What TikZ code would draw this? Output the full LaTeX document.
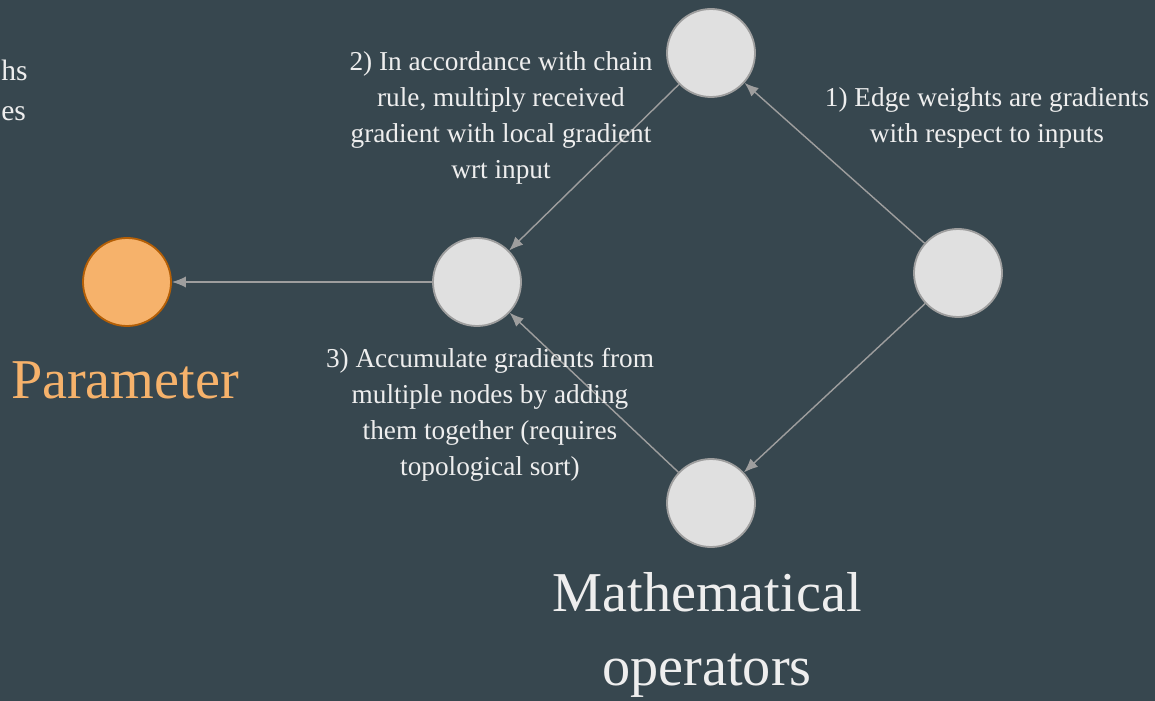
\documentclass[tikz,border=0pt]{standalone}
\usepackage{fontspec}
\setmainfont{Liberation Serif}
\usepackage{xcolor}
\usetikzlibrary{arrows.meta, positioning}

\definecolor{slate}{HTML}{37474F}
\definecolor{opfill}{HTML}{E0E0E0}
\definecolor{opline}{HTML}{9E9E9E}
\definecolor{parfill}{HTML}{F6B26B}
\definecolor{parline}{HTML}{B45F06}
\definecolor{txt}{HTML}{EEEEEE}

\begin{document}
\begin{tikzpicture}[
    x=0.025cm, y=-0.025cm,
    every node/.style={text=txt},
    op/.style={circle, draw=opline, fill=opfill, line width=1.3pt,
               minimum size=2.2cm, inner sep=0pt},
    param/.style={op, draw=parline, fill=parfill},
    note/.style={align=center, font=\fontsize{19.4}{25.6}\selectfont},
    big/.style={align=center, font=\fontsize{40}{53}\selectfont},
    arrow/.style={-{Latex[length=10pt, width=8pt]}, draw=opline, line width=1pt}
]
    \fill[slate] (0,0) rectangle (1155,701);
    \useasboundingbox (0,0) rectangle (1155,701);

    % nodes
    \node[param] (p) at (127,282) {};
    \node[op] (m) at (477,282) {};
    \node[op] (t) at (711,53) {};
    \node[op] (r) at (958,273) {};
    \node[op] (b) at (711,503) {};

    % edges
    \draw[arrow] (m) -- (p);
    \draw[arrow] (r) -- (t);
    \draw[arrow] (t) -- (m);
    \draw[arrow] (r) -- (b);
    \draw[arrow] (b) -- (m);

    % labels
    \node[big, text=parfill] (plabel) at (125,380) {Parameter};
    \node[big] (blabel) at (707,635) {Mathematical\\operators};
    \node[note] (n1) at (987,118) {1) Edge weights are gradients\\with respect to inputs};
    \node[note] (n2) at (501,118) {2) In accordance with chain\\rule, multiply received\\gradient with local gradient\\wrt input};
    \node[note] (n3) at (490,415) {3) Accumulate gradients from\\multiple nodes by adding\\them together (requires\\topological sort)};
    \node[note, anchor=west, align=left, inner sep=0pt,
          font=\fontsize{21}{28.5}\selectfont] (cut) at (1,90) {hs\\es};
\end{tikzpicture}
\end{document}
